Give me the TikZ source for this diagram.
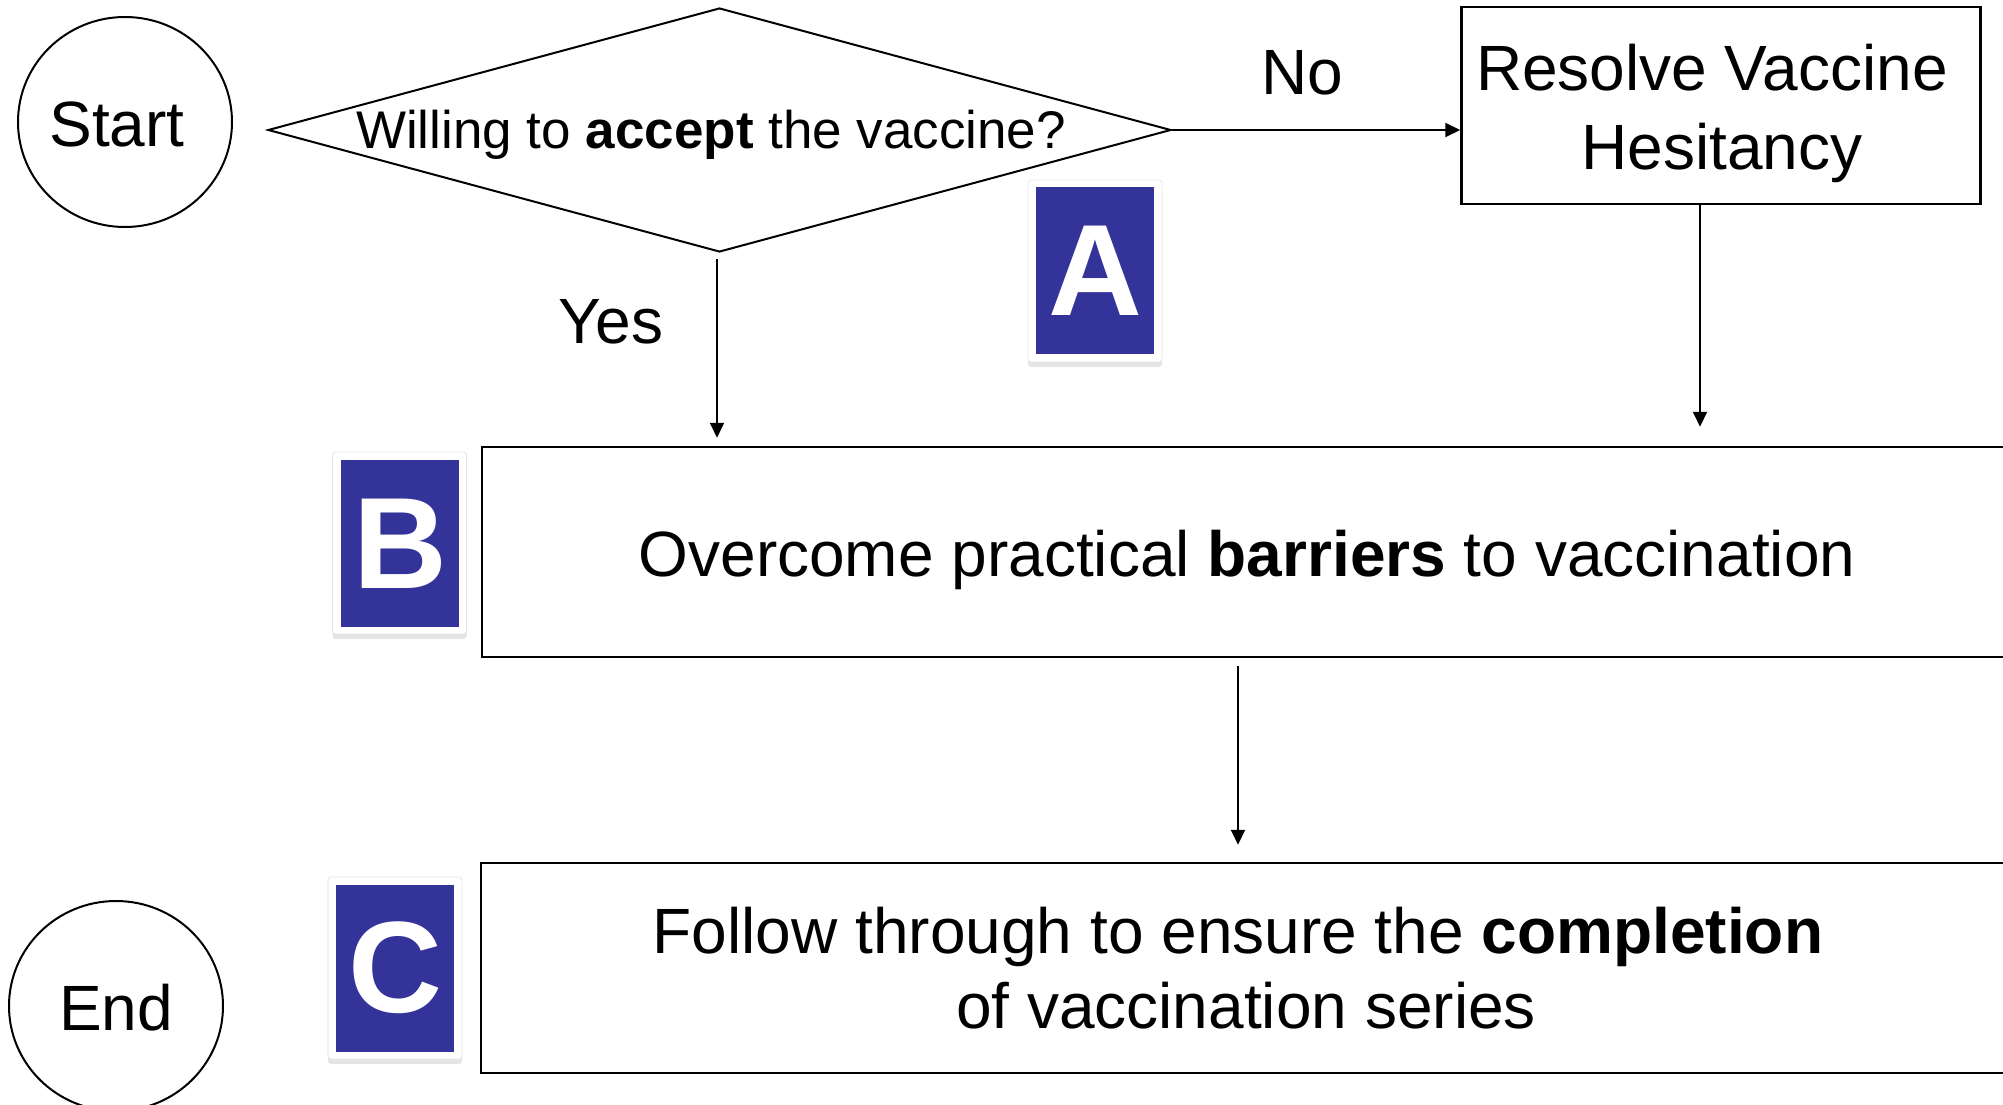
\documentclass[tikz,border=0pt]{standalone}
\usepackage{fontspec}
\setmainfont{Liberation Sans}
\usetikzlibrary{arrows.meta,shapes.geometric,shadows}
\definecolor{badgeblue}{RGB}{52,51,153}
\begin{document}
\begin{tikzpicture}[x=1pt,y=-1pt,
  txt/.style={inner sep=0pt, font=\fontsize{64}{76}\selectfont},
  qtxt/.style={inner sep=0pt, font=\fontsize{53}{64}\selectfont},
  term/.style={draw, line width=2pt, ellipse, minimum width=214pt, minimum height=210pt, inner sep=0pt},
  box/.style={draw, line width=2.5pt, rectangle, inner sep=0pt},
  card/.style={fill=white, draw=black!10, line width=0.8pt, rounded corners=3pt, minimum width=134pt, minimum height=182pt, inner sep=0pt,
    drop shadow={shadow xshift=0pt, shadow yshift=-5pt, opacity=0.2}},
  badge/.style={fill=badgeblue, text=white, minimum width=118pt, minimum height=167pt, inner sep=0pt,
    font=\fontsize{130}{130}\selectfont\bfseries},
  arr/.style={line width=2pt, -{Triangle[length=15pt,width=14pt]}}
]
\useasboundingbox (0,0) rectangle (2003,1105);
\fill[white] (0,0) rectangle (2003,1105);
\clip (0,0) rectangle (2003,1105);

% terminals
\node[term] (start) at (125,122) {};
\node[txt, anchor=base] (starttxt) at (117,147) {Start};
\node[term] (end) at (116,1006) {};
\node[txt, anchor=base] (endtxt) at (116,1030) {End};

% decision
\node[draw, diamond, line width=2pt, inner sep=0pt, minimum width=903pt, minimum height=244pt, shape aspect=3.7] (q) at (719.5,130) {};
\node[qtxt, anchor=base] (qt) at (711,149) {Willing to \textbf{accept} the vaccine?};

% resolve box
\node[box, minimum width=519pt, minimum height=197pt] (resolve) at (1721,105.5) {};
\node[txt, anchor=base] (res1) at (1712,91) {Resolve Vaccine};
\node[txt, anchor=base] (res2) at (1722,169) {Hesitancy};

% labels
\node[txt, anchor=base] (no) at (1302,95) {No};
\node[txt, anchor=base] (yes) at (611,343) {Yes};

% big boxes
\node[box, minimum width=1528pt, minimum height=210pt] (barriers) at (1246,552) {};
\node[txt, anchor=base] (bartxt) at (1247,576) {Overcome practical \textbf{barriers} to vaccination};
\node[box, minimum width=1528pt, minimum height=210pt] (complete) at (1245,968) {};
\node[txt, anchor=base] (comp1) at (1238,953) {Follow through to ensure the \textbf{completion}};
\node[txt, anchor=base] (comp2) at (1246,1028) {of vaccination series};

% badges
\node[card] (cardA) at (1095,271) {};
\node[badge] (A) at (1095,270.5) {A};
\node[card] (cardB) at (399.5,543) {};
\node[badge] (B) at (400,543.5) {B};
\node[card] (cardC) at (395,968) {};
\node[badge] (C) at (395,968) {C};

% connectors
\draw[arr] (q.east) -- (q.east -| resolve.west);
\draw[arr, shorten <=6pt, shorten >=8pt] (717,0 |- q.south) -- (717,0 |- barriers.north);
\draw[arr, shorten >=19pt] (1700,0 |- resolve.south) -- (1700,0 |- barriers.north);
\draw[arr, shorten <=8pt, shorten >=17pt] (1238,0 |- barriers.south) -- (1238,0 |- complete.north);
\end{tikzpicture}
\end{document}
